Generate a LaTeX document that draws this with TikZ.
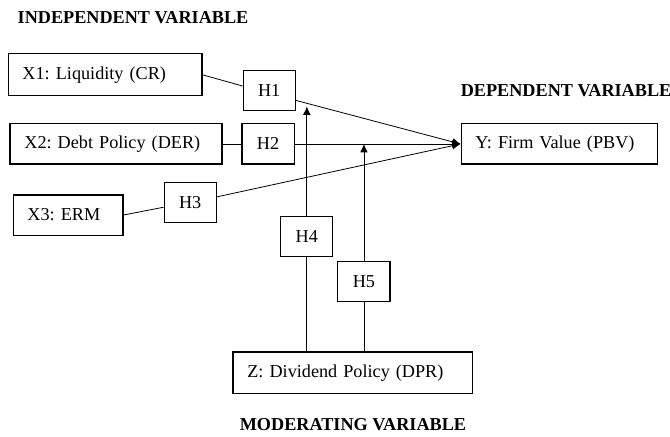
\documentclass[tikz,border=0pt]{standalone}
\usepackage{fontspec}
\setmainfont{Liberation Serif}
\usepackage{tikz}
\usetikzlibrary{arrows.meta, positioning}

\begin{document}
\begin{tikzpicture}[
    every node/.style={font=\fontsize{13.7}{16}\selectfont\frenchspacing},
    varbox/.style={draw, rectangle, line width=0.8pt, minimum height=1.06cm, inner xsep=0.38cm, text width=#1, align=left},
    hbox/.style={draw, rectangle, line width=0.8pt, minimum width=1.38cm, minimum height=1.06cm},
    title/.style={font=\fontsize{13.7}{16}\selectfont\bfseries, inner sep=0pt},
    link/.style={line width=0.6pt},
    arrow/.style={link, -{Latex[length=0.22cm, width=0.2cm]}}
]
    \useasboundingbox (0,0) rectangle (17.73,-11.56);

    % Independent variables
    \node[varbox=4.37cm, minimum height=1.11cm] (x1) at (2.78,-1.98) {X1: Liquidity (CR)};
    \node[varbox=4.85cm] (x2) at (3.07,-3.81) {X2: Debt Policy (DER)};
    \node[varbox=2.15cm] (x3) at (1.80,-5.69) {X3: ERM};
    \node[title, above=0.78cm of x1.north west, anchor=south west, xshift=0.26cm] (indep) {INDEPENDENT VARIABLE};

    % Hypotheses
    \node[hbox, right=1.06cm of x1, yshift=-0.42cm] (h1) {H1};
    \node[hbox, right=0.50cm of x2] (h2) {H2};
    \node[hbox, right=1.06cm of x3, yshift=0.33cm] (h3) {H3};

    % Dependent variable
    \node[varbox=4.45cm, right=4.39cm of h2] (y) {Y: Firm Value (PBV)};
    \node[title, above=0.69cm of y.north west, anchor=south west] (dep) {DEPENDENT VARIABLE};

    % Moderating variable
    \node[varbox=5.59cm, minimum height=1.11cm] (z) at (9.34,-9.87) {Z: Dividend Policy (DPR)};
    \node[title, below=0.63cm of z] (mod) {MODERATING VARIABLE};
    \node[hbox, above=2.51cm of z, xshift=-1.22cm] (h4) {H4};
    \node[hbox, above=1.30cm of z, xshift=0.29cm] (h5) {H5};

    % Direct paths
    \draw[link] (x1.east) -- (h1.170);
    \draw[arrow] (h1.-20) -- coordinate[pos=0.07] (m1) (y.west);
    \draw[link] (x2) -- (h2);
    \draw[arrow] (h2) -- (y);
    \draw[link] (x3.east) -- (h3.190);
    \draw[arrow] (h3.12) -- (y.west);

    % Moderation paths
    \draw[link] (h4.south |- z.north) -- (h4);
    \draw[arrow] (h4) -- ([yshift=-0.08cm]h4.north |- m1);
    \draw[link] (h5.south |- z.north) -- (h5);
    \draw[arrow] (h5) -- (h5.north |- y.west);

\end{tikzpicture}
\end{document}
